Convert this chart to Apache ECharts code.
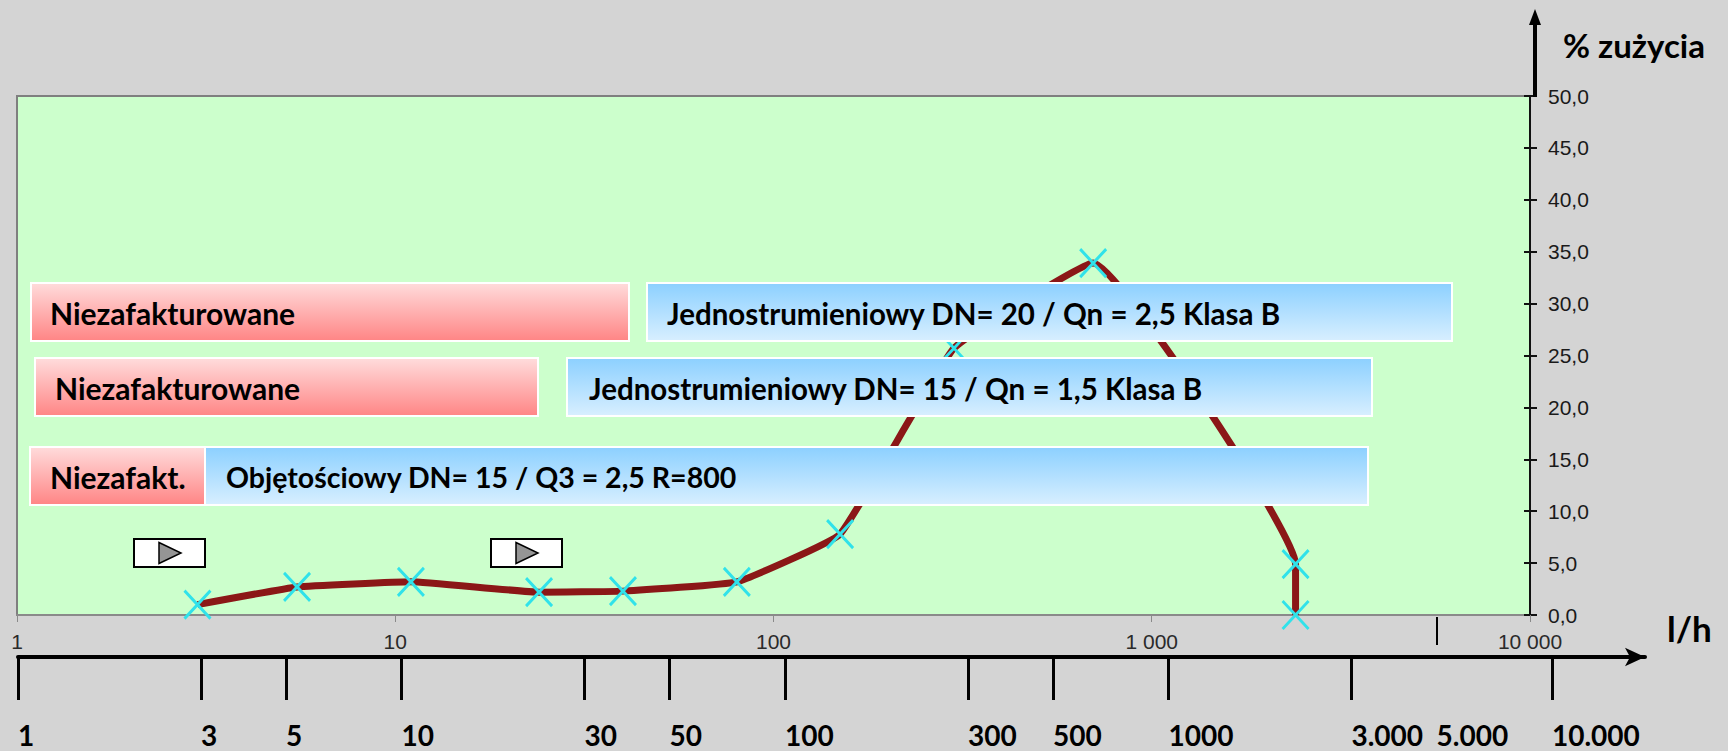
<!DOCTYPE html>
<html>
<head>
<meta charset="utf-8">
<script src="https://cdn.jsdelivr.net/npm/echarts@6/dist/echarts.min.js"></script>
<style>
html,body{margin:0;padding:0;background:#d4d4d4;}
#chart{width:1728px;height:751px;}
</style>
</head>
<body>
<div id="chart"></div>
<script>
// ---- data ----
const flowLh = [3, 5.5, 11, 24, 40, 80, 150, 300, 700, 2400, 2400];
const wearPct = [1.0, 2.7, 3.2, 2.2, 2.3, 3.2, 7.8, 25.7, 33.9, 4.9, 0.0];
const topTicks = [1, 10, 100, 1000, 10000];
const topTickLabels = ['1', '10', '100', '1 000', '10 000'];
const scaleValues = [1, 3, 5, 10, 30, 50, 100, 300, 500, 1000, 3000, 5000, 10000];
const scaleLabels = ['1', '3', '5', '10', '30', '50', '100', '300', '500', '1000', '3.000', '5.000', '10.000'];
const scaleUpTick = [5000];
const unbilledLabels = ['Niezafakturowane', 'Niezafakturowane', 'Niezafakt.'];
const meterLabels = ['Jednostrumieniowy DN= 20 / Qn = 2,5 Klasa B', 'Jednostrumieniowy DN= 15 / Qn = 1,5 Klasa B', 'Objętościowy DN= 15 / Q3 = 2,5 R=800'];
const yName = '% zużycia';
const xName = 'l/h';

// ---- chart ----
const chart = echarts.init(document.getElementById('chart'), null, {renderer: 'svg'});
const BOLD = 'Lato';
const blueG = () => new echarts.graphic.LinearGradient(0, 0, 0, 1, [{offset: 0, color: '#8cd0ff'}, {offset: 1, color: '#d8efff'}]);
const pinkG = () => new echarts.graphic.LinearGradient(0, 0, 0, 1, [{offset: 0, color: '#ffdcdc'}, {offset: 1, color: '#ff8585'}]);

function nearestIdx(v, arr) {
  let best = 0, bd = Infinity;
  arr.forEach((a, i) => { const d = Math.abs(Math.log(v) - Math.log(a)); if (d < bd) { bd = d; best = i; } });
  return best;
}

// annotation rows: [pink x0, pink x1, blue x0, blue x1, y0, y1, pink text x, blue text x, blue font px]
const rows = [
  [31, 629, 647, 1452, 283, 341, 50, 667, 29.5],
  [35, 538, 567, 1372, 358, 416, 55, 589, 29.5],
  [30, 205, 205, 1368, 447, 505, 50, 226, 28.5]
];
const graphics = [];
rows.forEach((r, i) => {
  const cy = (r[4] + r[5]) / 2 + 1;
  graphics.push({type: 'rect', z: 50, shape: {x: r[0], y: r[4], width: r[1] - r[0], height: r[5] - r[4]}, style: {fill: pinkG(), stroke: '#ffffff', lineWidth: 2}});
  graphics.push({type: 'rect', z: 50, shape: {x: r[2], y: r[4], width: r[3] - r[2], height: r[5] - r[4]}, style: {fill: blueG(), stroke: '#ffffff', lineWidth: 2}});
  graphics.push({type: 'text', z: 51, x: r[6], y: cy, style: {text: unbilledLabels[i], font: 'bold 30px ' + BOLD, fill: '#000', verticalAlign: 'middle', align: 'left'}});
  graphics.push({type: 'text', z: 51, x: r[7], y: cy, style: {text: meterLabels[i], font: 'bold ' + r[8] + 'px ' + BOLD, fill: '#000', verticalAlign: 'middle', align: 'left'}});
});
// play buttons
[[134, 539], [491, 539]].forEach(p => {
  graphics.push({type: 'rect', z: 50, shape: {x: p[0], y: p[1], width: 71, height: 28}, style: {fill: '#fff', stroke: '#000', lineWidth: 2}});
  graphics.push({type: 'polygon', z: 51, shape: {points: [[p[0] + 25, p[1] + 3.5], [p[0] + 47, p[1] + 14], [p[0] + 25, p[1] + 24.5]]}, style: {fill: '#959595', stroke: '#000', lineWidth: 1.5}});
});
// vertical axis arrow
graphics.push({type: 'line', z: 50, shape: {x1: 1535, y1: 97, x2: 1535, y2: 22}, style: {stroke: '#000', lineWidth: 4}});
graphics.push({type: 'polygon', z: 50, shape: {points: [[1529, 25], [1535, 9], [1541, 25]]}, style: {fill: '#000'}});
graphics.push({type: 'text', z: 50, x: 1563, y: 45, style: {text: yName, font: 'bold 33px ' + BOLD, fill: '#000', verticalAlign: 'middle', align: 'left'}});
graphics.push({type: 'text', z: 50, x: 1667, y: 628, style: {text: xName, font: 'bold 35px ' + BOLD, fill: '#000', verticalAlign: 'middle', align: 'left'}});

const option = {
  backgroundColor: '#d4d4d4',
  animation: false,
  grid: [
    {left: 17, right: 198, top: 96, bottom: 136, show: true, backgroundColor: '#ccffcc', borderColor: '#7f7f7f', borderWidth: 2, containLabel: false},
    {left: 18, right: 83, top: 617, height: 40, containLabel: false}
  ],
  xAxis: [
    {
      type: 'log', logBase: 10, min: 1, max: 10000, gridIndex: 0, position: 'bottom',
      axisLine: {show: true, lineStyle: {color: '#8a8a8a', width: 2}},
      axisTick: {show: true, length: 7, lineStyle: {color: '#8a8a8a', width: 1}},
      minorTick: {show: false}, splitLine: {show: false},
      axisLabel: {
        margin: 16, fontFamily: 'Liberation Sans', fontSize: 21, color: '#2a2a2a',
        customValues: topTicks,
        formatter: v => topTickLabels[nearestIdx(v, topTicks)]
      }
    },
    {
      type: 'log', logBase: 10, min: 1, max: 17480, gridIndex: 1, position: 'bottom',
      axisLine: {show: true, symbol: ['none', 'arrow'], symbolSize: [14, 20], lineStyle: {color: '#000', width: 4}},
      axisTick: {show: true, length: 43, customValues: scaleValues.filter(v => scaleUpTick.indexOf(v) < 0), lineStyle: {color: '#000', width: 3}},
      minorTick: {show: false}, splitLine: {show: false},
      axisLabel: {
        margin: 64, fontFamily: BOLD, fontWeight: 'bold', fontSize: 28, color: '#000', align: 'left',
        customValues: scaleValues,
        formatter: v => scaleLabels[nearestIdx(v, scaleValues)]
      }
    }
  ],
  yAxis: [
    {
      type: 'value', min: 0, max: 50, interval: 5, gridIndex: 0, position: 'right',
      axisLine: {show: true, onZero: false, lineStyle: {color: '#111', width: 2}},
      axisTick: {show: true, length: 7, lineStyle: {color: '#111', width: 2}},
      splitLine: {show: false},
      axisLabel: {margin: 18, fontFamily: 'Liberation Sans', fontSize: 21, color: '#1a1a1a', formatter: v => v.toFixed(1).replace('.', ',')}
    },
    {
      type: 'value', min: 0, max: 50, interval: 5, gridIndex: 0, position: 'right',
      axisLine: {show: false}, axisTick: {show: true, inside: true, length: 6, lineStyle: {color: '#111', width: 2}},
      axisLabel: {show: false}, splitLine: {show: false}
    },
    {type: 'value', min: 0, max: 1, gridIndex: 1, show: false}
  ],
  series: [
    {
      type: 'line', xAxisIndex: 0, yAxisIndex: 0, z: 3,
      data: flowLh.map((x, i) => [x, wearPct[i]]),
      smooth: 0.1,
      lineStyle: {color: '#8b1717', width: 7},
      symbol: 'path://M0,0L26,26M26,0L0,26',
      symbolSize: [26, 28],
      showSymbol: true, showAllSymbol: true,
      itemStyle: {color: 'rgba(0,0,0,0)', borderColor: '#30e2ea', borderWidth: 3},
      emphasis: {disabled: true}
    },
    {
      type: 'line', xAxisIndex: 1, yAxisIndex: 2, data: [],
      markLine: {silent: true, symbol: 'none', label: {show: false}, lineStyle: {color: '#000', width: 2, type: 'solid'},
        data: scaleUpTick.map(v => [{xAxis: v, yAxis: 0.3}, {xAxis: v, yAxis: 1}])}
    }
  ],
  graphic: graphics
};
chart.setOption(option);
</script>
</body>
</html>
